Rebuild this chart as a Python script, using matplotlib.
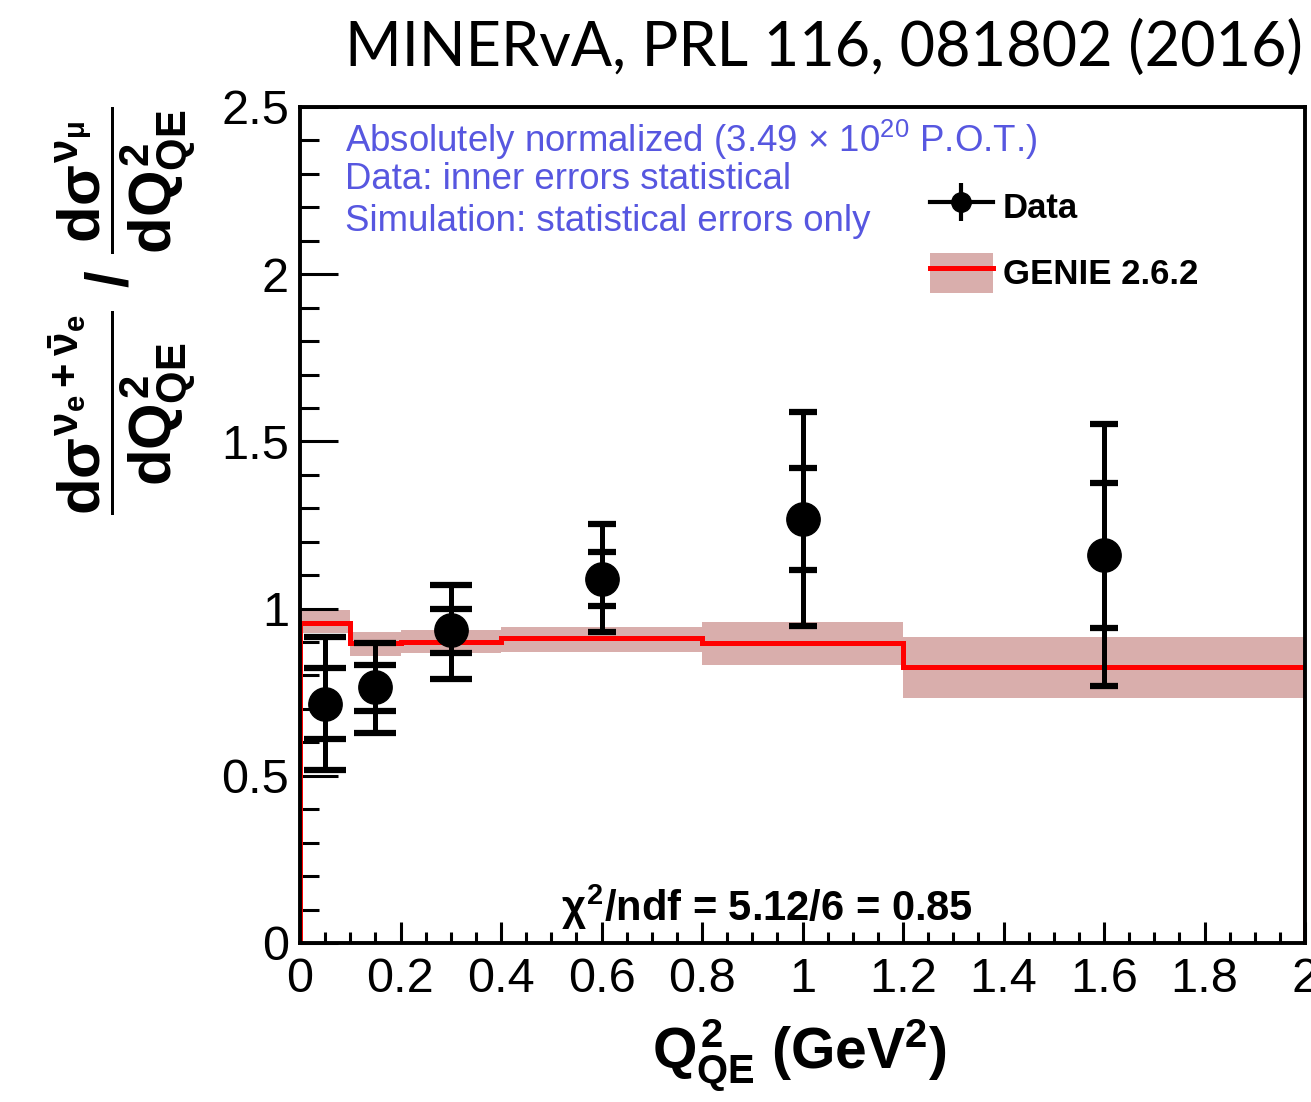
import matplotlib
matplotlib.use("Agg")
import matplotlib.pyplot as plt
from matplotlib.lines import Line2D
from matplotlib.patches import Patch
from matplotlib.legend_handler import HandlerTuple
from matplotlib.ticker import MultipleLocator, FixedLocator

plt.rcParams['font.family'] = ['Liberation Sans', 'DejaVu Sans']
plt.rcParams['mathtext.fontset'] = 'custom'
plt.rcParams['mathtext.rm'] = 'Liberation Sans:bold'
plt.rcParams['mathtext.it'] = 'Liberation Sans:bold'
plt.rcParams['mathtext.bf'] = 'Liberation Sans:bold'
plt.rcParams['mathtext.sf'] = 'Liberation Sans:bold'

# data points (ratio nu_e / nu_mu)
q2 = [0.05, 0.15, 0.3, 0.6, 1.0, 1.6]
ratio = [0.715, 0.766, 0.936, 1.09, 1.268, 1.16]
stat_lo = [0.61, 0.694, 0.867, 1.008, 1.115, 0.942]
stat_hi = [0.822, 0.831, 1.00, 1.169, 1.42, 1.376]
tot_lo = [0.517, 0.628, 0.789, 0.93, 0.948, 0.769]
tot_hi = [0.915, 0.897, 1.07, 1.253, 1.588, 1.552]

# GENIE 2.6.2 prediction, histogram bins
bin_edges = [0.0, 0.1, 0.2, 0.4, 0.8, 1.2, 2.0]
genie = [0.957, 0.897, 0.900, 0.912, 0.897, 0.825]
genie_lo = [0.927, 0.857, 0.868, 0.870, 0.830, 0.733]
genie_hi = [0.995, 0.930, 0.935, 0.945, 0.960, 0.915]

xticks = [0, 0.2, 0.4, 0.6, 0.8, 1.0, 1.2, 1.4, 1.6, 1.8, 2.0]
xticklabels = ['0', '0.2', '0.4', '0.6', '0.8', '1', '1.2', '1.4', '1.6', '1.8', '2']
yticks = [0, 0.5, 1.0, 1.5, 2.0, 2.5]
yticklabels = ['0', '0.5', '1', '1.5', '2', '2.5']

W, H = 1311, 1102
fig = plt.figure(figsize=(W / 100, H / 100), dpi=100)
ax = fig.add_axes([300 / W, 1 - 943 / H, 1005 / W, 836 / H])

band_col = '#d9aeac'
red = '#ff0000'

# band + step line
for i in range(len(genie)):
    ax.fill_between([bin_edges[i], bin_edges[i + 1]], genie_lo[i], genie_hi[i],
                    color=band_col, lw=0, zorder=1)
ax.stairs(genie, bin_edges, baseline=0, color=red, lw=3.6, zorder=2)

# data: total and statistical errors
caps = [15, 15, 15, 10, 10, 10]
for i in range(len(q2)):
    ax.errorbar([q2[i]], [ratio[i]],
                yerr=[[ratio[i] - tot_lo[i]], [tot_hi[i] - ratio[i]]],
                fmt='o', color='black', ms=24, lw=3.6, capsize=caps[i],
                capthick=4.5, zorder=4)
    ax.errorbar([q2[i]], [ratio[i]],
                yerr=[[ratio[i] - stat_lo[i]], [stat_hi[i] - ratio[i]]],
                fmt='none', color='black', lw=3.6, capsize=caps[i],
                capthick=4.5, zorder=4)

ax.set_xlim(0, 2)
ax.set_ylim(0, 2.5)
ax.xaxis.set_major_locator(FixedLocator(xticks))
ax.set_xticklabels(xticklabels)
ax.xaxis.set_minor_locator(MultipleLocator(0.05))
ax.yaxis.set_major_locator(FixedLocator(yticks))
ax.set_yticklabels(yticklabels)
ax.yaxis.set_minor_locator(MultipleLocator(0.1))
ax.tick_params(which='both', direction='in', top=False, right=False, width=2.2)
ax.tick_params(which='major', axis='x', length=15, labelsize=35, pad=10)
ax.tick_params(which='minor', axis='x', length=8)
ax.tick_params(which='major', axis='y', length=27, labelsize=35, pad=8)
ax.tick_params(which='minor', axis='y', length=14)
for s in ax.spines.values():
    s.set_linewidth(2.8)

ax.set_xlabel(r'$Q^{2}_{QE}$ (GeV$^{2}$)', fontsize=41, fontweight='bold')
ax.xaxis.set_label_coords(0.497, -0.088)
ax.set_ylabel(r'$\dfrac{d\sigma^{\nu_{e} + \bar{\nu}_{e}}}{dQ^{2}_{QE}}\ /\ '
              r'\dfrac{d\sigma^{\nu_{\mu}}}{dQ^{2}_{QE}}$', fontsize=43)
ax.yaxis.set_label_coords(-0.1, 0.756)

blue = '#5757e0'
ax.text(0.045, 0.9605, r'Absolutely normalized (3.49 × 10$^{\mathregular{20}}$ P.O.T.)',
        transform=ax.transAxes, color=blue, fontsize=26.4, va='center')
ax.text(0.045, 0.9127, 'Data: inner errors statistical',
        transform=ax.transAxes, color=blue, fontsize=26.4, va='center')
ax.text(0.045, 0.8636, 'Simulation: statistical errors only',
        transform=ax.transAxes, color=blue, fontsize=26.4, va='center')

ax.text(0.93, 0.108, r'$\chi^{2}$/ndf = 5.12/6 = 0.85', fontsize=30,
        fontweight='bold', ha='center', va='center')

h_data = (Line2D([], [], color='black', lw=3, marker='o', ms=14),
          Line2D([], [], color='black', lw=0, marker='|', ms=28, mew=3))
h_genie = (Patch(facecolor=band_col, edgecolor='none'),
           Line2D([], [], color=red, lw=3.6))
ax.legend([h_data, h_genie], ['Data', 'GENIE 2.6.2'],
          handler_map={tuple: HandlerTuple(ndivide=1, pad=0)},
          loc='upper left', bbox_to_anchor=(0.627, 0.905), frameon=False,
          borderaxespad=0, borderpad=0, handlelength=1.8, handleheight=1.4,
          handletextpad=0.3, labelspacing=0.75,
          prop={'family': 'Liberation Sans', 'weight': 'bold', 'size': 25})

fig.text(345 / W, 1 - 66 / H, 'MINERvA, PRL 116, 081802 (2016)',
         family='Lato', fontsize=44, ha='left', va='baseline')

fig.savefig('out.png', dpi=100)
